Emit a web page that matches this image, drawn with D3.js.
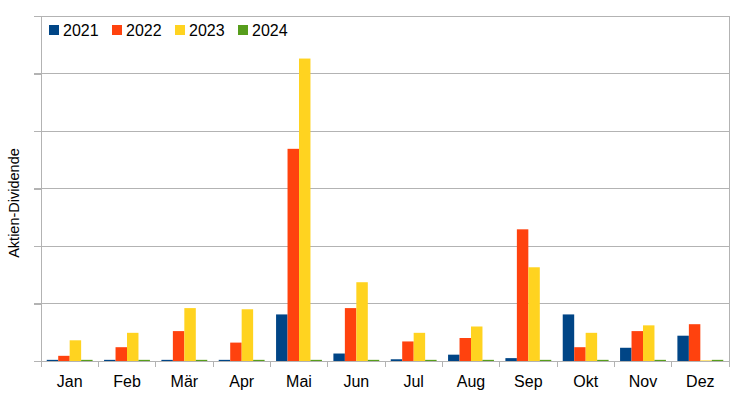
<!DOCTYPE html>
<html><head><meta charset="utf-8">
<script src="https://cdn.jsdelivr.net/npm/d3@7"></script>
<style>body{margin:0;background:#fff}svg{display:block;font-family:"Liberation Sans",Arial,sans-serif}</style>
</head><body><svg id="c" width="732" height="406"></svg>
<script>
const months = ["Jan","Feb","Mär","Apr","Mai","Jun","Jul","Aug","Sep","Okt","Nov","Dez"];
const years = ["2021","2022","2023","2024"];
const v2021 = [0.02,0.02,0.02,0.02,0.81,0.13,0.03,0.11,0.05,0.81,0.23,0.44];
const v2022 = [0.09,0.24,0.52,0.32,3.69,0.92,0.34,0.40,2.29,0.24,0.52,0.64];
const v2023 = [0.36,0.49,0.92,0.90,5.26,1.37,0.49,0.60,1.63,0.49,0.62,0.01];
const v2024 = [0.02,0.02,0.02,0.02,0.02,0.02,0.02,0.02,0.02,0.02,0.02,0.02];
const yTicks = [0,1,2,3,4,5,6];
const colors = ["#004586","#ff420e","#ffd320","#579d1c"];
const series = [v2021,v2022,v2023,v2024];

const svg = d3.select("#c");
const L = 41, R = 729, T = 16, B = 361;
const x = d3.scaleBand().domain(months).range([L, R]).paddingInner(0.2).paddingOuter(0.1);
const xs = d3.scaleBand().domain(months).range([L, R]);
const xi = d3.scaleBand().domain(years).range([0, x.bandwidth()]);
const y = d3.scaleLinear().domain([0, 6]).range([B, T]);
const grey = "#b3b3b3";

// grid lines
svg.append("g").selectAll("line").data(yTicks.slice(1)).join("line")
  .attr("x1", L - 7).attr("x2", R).attr("y1", d => y(d)).attr("y2", d => y(d))
  .attr("stroke", grey).attr("stroke-width", 1).attr("shape-rendering","crispEdges");
// right border
svg.append("line").attr("x1", R).attr("x2", R).attr("y1", T).attr("y2", B)
  .attr("stroke", grey).attr("shape-rendering","crispEdges");

// bars
const g = svg.append("g");
series.forEach((s, si) => {
  g.append("g").selectAll("rect").data(s).join("rect")
    .attr("x", (d, i) => x(months[i]) + xi(years[si]))
    .attr("width", xi.bandwidth())
    .attr("y", d => y(d))
    .attr("height", d => B - y(d))
    .attr("fill", colors[si]);
});

// y axis
const ya = d3.axisLeft(y).tickValues(yTicks).tickSize(7).tickFormat("");
const yg = svg.append("g").attr("transform", `translate(${L},0)`).call(ya);
yg.selectAll("line,path").attr("stroke", grey).attr("shape-rendering","crispEdges");
yg.select(".domain").remove();
svg.append("line").attr("x1", L).attr("x2", L).attr("y1", T).attr("y2", B + 6)
  .attr("stroke", grey).attr("shape-rendering","crispEdges");

// x axis
svg.append("line").attr("x1", L - 7).attr("x2", R).attr("y1", B).attr("y2", B)
  .attr("stroke", grey).attr("shape-rendering","crispEdges");
const tickPos = months.map(m => xs(m)).concat([R]);
svg.append("g").selectAll("line").data(tickPos).join("line")
  .attr("x1", d => d).attr("x2", d => d).attr("y1", B).attr("y2", B + 6)
  .attr("stroke", grey).attr("shape-rendering","crispEdges");
svg.append("g").selectAll("text").data(months).join("text")
  .attr("x", d => xs(d) + xs.bandwidth() / 2).attr("y", 387)
  .attr("text-anchor", "middle").attr("font-size", 16).attr("fill", "#000").text(d => d);

// y label
svg.append("text").attr("transform", "translate(18.5,203) rotate(-90)")
  .attr("text-anchor", "middle").attr("font-size", 14.5).attr("fill", "#000").text("Aktien-Dividende");

// legend
const lx = [49, 112, 175, 238];
const lg = svg.append("g").selectAll("g").data(years).join("g")
  .attr("transform", (d, i) => `translate(${lx[i]},0)`);
lg.append("rect").attr("x", 0).attr("y", 25).attr("width", 10).attr("height", 10)
  .attr("fill", (d, i) => colors[i]);
lg.append("text").attr("x", 14).attr("y", 35.5).attr("font-size", 16).attr("fill", "#000").text(d => d);
</script></body></html>
